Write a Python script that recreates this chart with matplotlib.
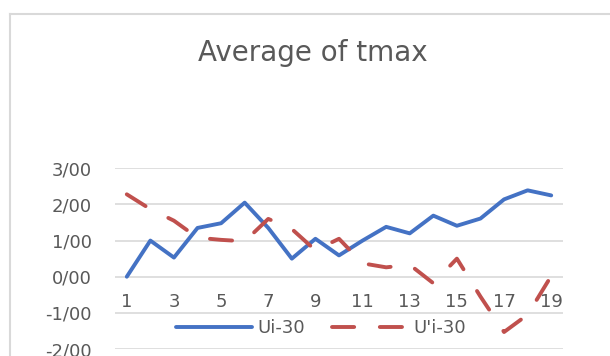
import numpy as np
import matplotlib
matplotlib.use("Agg")
from matplotlib import pyplot as plt
from matplotlib.lines import Line2D

# series values per day index
days = list(range(1, 20))
ui_30 = [0.00, 1.00, 0.53, 1.35, 1.48, 2.05, 1.35, 0.50, 1.05, 0.59,
         1.00, 1.38, 1.20, 1.69, 1.41, 1.61, 2.14, 2.39, 2.25]
u_i_30 = [2.28, 1.87, 1.55, 1.08, 1.02, 0.98, 1.60, 1.32, 0.73, 1.05,
          0.37, 0.26, 0.33, -0.18, 0.50, -0.55, -1.53, -1.05, 0.02]
y_ticks = [-2, -1, 0, 1, 2, 3]
y_labels = ["-2/00", "-1/00", "0/00", "1/00", "2/00", "3/00"]

W, H = 610, 356
text_col = "#595959"
grid_col = "#D9D9D9"
blue = "#4472C4"
red = "#C0504D"

fig = plt.figure(figsize=(W / 100, H / 100), dpi=100)
fig.patch.set_facecolor("white")

# chart frame
fig.add_artist(Line2D([10 / W, 1.0], [1 - 14 / H, 1 - 14 / H], color=grid_col, lw=1.5,
                      transform=fig.transFigure))
fig.add_artist(Line2D([10 / W, 10 / W], [0.0, 1 - 14 / H], color=grid_col, lw=1.5,
                      transform=fig.transFigure))

fig.text(313 / W, 1 - 61 / H, "Average of tmax", ha="center", va="baseline",
         fontsize=20, color=text_col)

ax = fig.add_axes([115 / W, 7 / H, 448 / W, 180.7 / H])
ax.set_xlim(0.5, 19.5)
ax.set_ylim(-2, 3)
for s in ax.spines.values():
    s.set_visible(False)

ax.set_yticks(y_ticks)
ax.set_yticklabels(y_labels)
ax.tick_params(axis="y", length=0, pad=16.5, labelsize=13, labelcolor=text_col)
ax.set_xticks([])
ax.grid(axis="y", color=grid_col, lw=1.2)
ax.set_axisbelow(True)

# category labels sit just under the zero line, every second one shown
for d in days:
    if d % 2 == 1:
        ax.annotate(str(d), xy=(d, 0), xytext=(0, -25), textcoords="offset pixels",
                    ha="center", va="center", fontsize=13, color=text_col)

ax.plot(days, ui_30, color=blue, lw=2.8, solid_capstyle="round",
        solid_joinstyle="round", label="Ui-30")
ax.plot(days, u_i_30, color=red, lw=2.8, linestyle=(0, (5.7, 6.6)),
        dash_capstyle="round", label="U'i-30")

fig.legend(loc="center", bbox_to_anchor=(321 / W, 1 - 328 / H), bbox_transform=fig.transFigure,
           ncol=2, frameon=False, fontsize=13, labelcolor=text_col,
           handlelength=4.2, handletextpad=0.3, columnspacing=1.5)

fig.savefig("out.png", dpi=100, facecolor="white")
